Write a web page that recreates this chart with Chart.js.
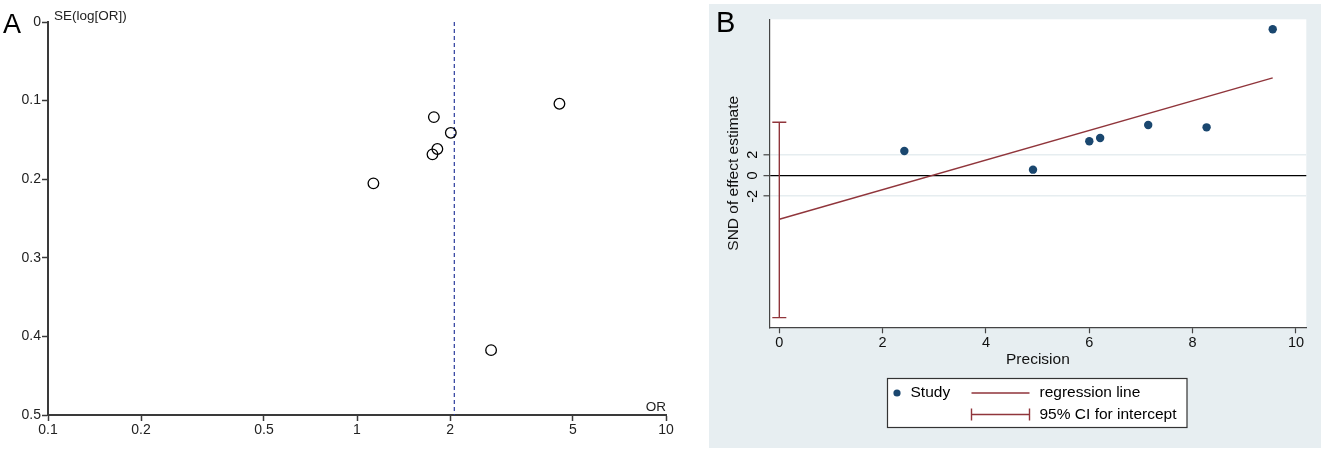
<!DOCTYPE html>
<html>
<head>
<meta charset="utf-8">
<title>Funnel plot and Egger test</title>
<script src="https://cdn.jsdelivr.net/npm/chart.js@4.4.1/dist/chart.umd.min.js"></script>
<style>
  html, body { margin: 0; padding: 0; background: #fff; }
  body { width: 1325px; height: 453px; position: relative; overflow: hidden; }
  #panelA { position: absolute; left: 0; top: 0; width: 700px; height: 453px; }
  #panelB { position: absolute; left: 709px; top: 4px; width: 612px; height: 444px; background: #e7eef1; }
</style>
</head>
<body>
<div id="panelA"><canvas id="funnel"></canvas></div>
<div id="panelB"><canvas id="egger"></canvas></div>
<script>
// ── Panel A data: funnel plot ────────────────────────────────
const OR_VALUES = [4.52, 1.773, 2.012, 1.820, 1.755, 1.130, 2.716];
const SE_VALUES = [0.104, 0.121, 0.141, 0.1616, 0.1684, 0.2053, 0.4175];
const POOLED_OR = 2.065;
const OR_TICKS  = [0.1, 0.2, 0.5, 1, 2, 5, 10];
const SE_TICKS  = [0, 0.1, 0.2, 0.3, 0.4, 0.5];

// ── Panel B data: Egger regression ───────────────────────────
const PRECISION  = [9.55, 2.42, 4.91, 6.0, 6.21, 7.14, 8.27];
const SND        = [14.06, 2.36, 0.56, 3.29, 3.61, 4.86, 4.63];
const REG_X      = [0, 9.55];
const REG_Y      = [-4.21, 9.38];
const CI_BOUNDS  = [5.12, -13.67];
const PREC_TICKS = [0, 2, 4, 6, 8, 10];
const SND_TICKS  = [-2, 0, 2];

const FONT   = "'Liberation Sans', Arial, sans-serif";
const AXIS_A = '#3a3a3a';
const NAVY   = '#1a476f';
const MAROON = '#90353b';

// ── Panel A ──────────────────────────────────────────────────
const labelsA = {
  id: 'labelsA',
  afterDraw(chart) {
    const { ctx, chartArea: a } = chart;
    ctx.save();
    ctx.fillStyle = '#000';
    ctx.font = '27px ' + FONT;
    ctx.fillText('A', 3, 33);
    ctx.fillStyle = '#222';
    ctx.font = '13.5px ' + FONT;
    ctx.fillText('SE(log[OR])', a.left + 6, 20);
    ctx.textAlign = 'right';
    ctx.fillText('OR', a.right, a.bottom - 4);
    ctx.restore();
  }
};

new Chart(document.getElementById('funnel'), {
  type: 'scatter',
  data: {
    datasets: [
      {
        label: 'Studies',
        data: OR_VALUES.map((v, i) => ({ x: v, y: SE_VALUES[i] })),
        pointStyle: 'circle',
        pointRadius: 5.3,
        borderColor: '#000',
        borderWidth: 1.3,
        backgroundColor: 'rgba(0,0,0,0)'
      },
      {
        label: 'Pooled OR',
        data: [{ x: POOLED_OR, y: SE_TICKS[0] }, { x: POOLED_OR, y: SE_TICKS[SE_TICKS.length - 1] }],
        showLine: true,
        borderColor: '#2b3c9c',
        borderWidth: 1.2,
        borderDash: [4, 3],
        pointRadius: 0
      }
    ]
  },
  options: {
    responsive: true,
    maintainAspectRatio: false,
    animation: false,
    layout: { padding: { left: 8, top: 22, right: 34, bottom: 0 } },
    plugins: { legend: { display: false }, tooltip: { enabled: false } },
    scales: {
      x: {
        type: 'logarithmic',
        min: 0.1,
        max: 10,
        afterBuildTicks: s => { s.ticks = OR_TICKS.map(v => ({ value: v })); },
        afterFit: s => { s.height = 38; },
        grid: { drawOnChartArea: false, drawTicks: true, tickLength: 6, tickColor: AXIS_A, tickWidth: 1.5 },
        border: { display: true, color: AXIS_A, width: 2 },
        ticks: { color: '#222', font: { family: FONT, size: 14 }, padding: 1, maxRotation: 0, autoSkip: false, callback: v => String(v) }
      },
      y: {
        reverse: true,
        min: 0,
        max: 0.5,
        afterBuildTicks: s => { s.ticks = SE_TICKS.map(v => ({ value: v })); },
        afterFit: s => { s.width = 40; },
        grid: { drawOnChartArea: false, drawTicks: true, tickLength: 6, tickColor: AXIS_A, tickWidth: 1.5 },
        border: { display: true, color: AXIS_A, width: 2 },
        ticks: { color: '#222', font: { family: FONT, size: 14 }, padding: 1, autoSkip: false, callback: v => String(+v.toFixed(1)) }
      }
    }
  },
  plugins: [labelsA]
});

// ── Panel B ──────────────────────────────────────────────────
const plotBg = {
  id: 'plotBg',
  beforeDraw(chart) {
    const { ctx, chartArea: a } = chart;
    ctx.save();
    ctx.fillStyle = '#fff';
    ctx.fillRect(a.left, a.top, a.right - a.left, a.bottom - a.top);
    ctx.restore();
  }
};

const labelsB = {
  id: 'labelsB',
  afterDraw(chart) {
    const { ctx, chartArea: a } = chart;
    const y = chart.scales.y;
    ctx.save();
    // panel letter
    ctx.fillStyle = '#000';
    ctx.font = '29px ' + FONT;
    ctx.fillText('B', 7, 28);

    // rotated y tick labels
    ctx.font = '14.5px ' + FONT;
    ctx.textAlign = 'center';
    ctx.textBaseline = 'middle';
    SND_TICKS.forEach(v => {
      ctx.save();
      ctx.translate(a.left - 17, y.getPixelForValue(v));
      ctx.rotate(-Math.PI / 2);
      ctx.fillText(String(v), 0, 0);
      ctx.restore();
    });

    // legend box
    const bx = 178.5, by = 374.5, bw = 299.5, bh = 49;
    ctx.fillStyle = '#fff';
    ctx.fillRect(bx, by, bw, bh);
    ctx.strokeStyle = '#333';
    ctx.lineWidth = 1.2;
    ctx.strokeRect(bx, by, bw, bh);

    const r1 = by + 14.5, r2 = by + 36;
    ctx.fillStyle = NAVY;
    ctx.beginPath();
    ctx.arc(bx + 9.5, r1, 3.6, 0, Math.PI * 2);
    ctx.fill();

    ctx.strokeStyle = MAROON;
    ctx.lineWidth = 1.4;
    ctx.beginPath();
    ctx.moveTo(bx + 84, r1); ctx.lineTo(bx + 142, r1);
    ctx.moveTo(bx + 84, r2); ctx.lineTo(bx + 142, r2);
    ctx.moveTo(bx + 84, r2 - 6); ctx.lineTo(bx + 84, r2 + 6);
    ctx.moveTo(bx + 142, r2 - 6); ctx.lineTo(bx + 142, r2 + 6);
    ctx.stroke();

    ctx.fillStyle = '#000';
    ctx.font = '15.5px ' + FONT;
    ctx.textAlign = 'left';
    ctx.fillText('Study', bx + 23, r1);
    ctx.fillText('regression line', bx + 152, r1);
    ctx.fillText('95% CI for intercept', bx + 152, r2);
    ctx.restore();
  }
};

new Chart(document.getElementById('egger'), {
  type: 'scatter',
  data: {
    datasets: [
      {
        label: 'Study',
        data: PRECISION.map((p, i) => ({ x: p, y: SND[i] })),
        pointRadius: 4.2,
        backgroundColor: NAVY,
        borderColor: NAVY,
        borderWidth: 0
      },
      {
        label: 'regression line',
        data: REG_X.map((x, i) => ({ x, y: REG_Y[i] })),
        showLine: true,
        borderColor: MAROON,
        borderWidth: 1.4,
        pointRadius: 0
      },
      {
        label: '95% CI for intercept',
        data: CI_BOUNDS.map(v => ({ x: REG_X[0], y: v })),
        showLine: true,
        borderColor: MAROON,
        borderWidth: 1.4,
        pointStyle: 'line',
        pointRadius: 7,
        pointBorderColor: MAROON,
        pointBorderWidth: 1.4
      }
    ]
  },
  options: {
    responsive: true,
    maintainAspectRatio: false,
    animation: false,
    layout: { padding: { left: 0, top: 15.3, right: 14.7, bottom: 0 } },
    plugins: { legend: { display: false }, tooltip: { enabled: false } },
    scales: {
      x: {
        min: -0.19,
        max: 10.2,
        afterBuildTicks: s => { s.ticks = PREC_TICKS.map(v => ({ value: v })); },
        afterFit: s => { s.height = 120.7; },
        grid: { drawOnChartArea: false, drawTicks: true, tickLength: 6, tickColor: '#444', tickWidth: 1.2 },
        border: { display: true, color: '#444', width: 1.2 },
        ticks: { color: '#111', font: { family: FONT, size: 14.5 }, padding: 1, maxRotation: 0, autoSkip: false },
        title: { display: true, text: 'Precision', color: '#111', font: { family: FONT, size: 15.5 }, padding: { bottom: 79 } }
      },
      y: {
        min: -14.6,
        max: 15.02,
        afterBuildTicks: s => { s.ticks = SND_TICKS.map(v => ({ value: v })); },
        afterFit: s => { s.width = 60.5; },
        grid: {
          drawOnChartArea: true,
          drawTicks: true,
          tickLength: 6,
          tickColor: '#444',
          tickWidth: 1.2,
          color: c => c.tick && c.tick.value === 0 ? '#000' : '#e6edf0',
          lineWidth: c => c.tick && c.tick.value === 0 ? 1.3 : 1.6
        },
        border: { display: true, color: '#444', width: 1.2 },
        ticks: { display: false },
        title: { display: true, text: 'SND of effect estimate', color: '#111', font: { family: FONT, size: 15.5 }, padding: { top: 15 } }
      }
    }
  },
  plugins: [plotBg, labelsB]
});
</script>
</body>
</html>
